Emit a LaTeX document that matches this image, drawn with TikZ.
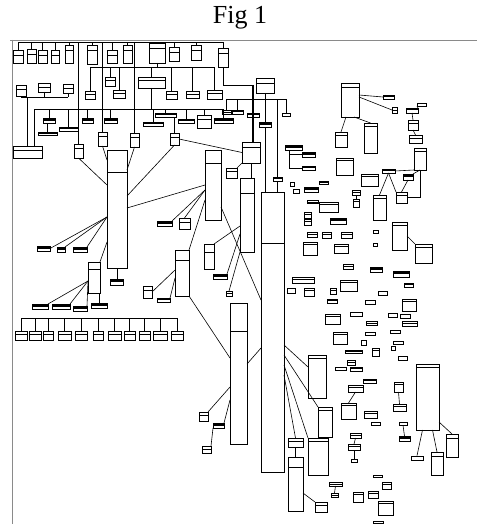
\documentclass[tikz,border=0pt]{standalone}
\usepackage{fontspec}
\setmainfont{Liberation Serif}
\usetikzlibrary{fit}
\definecolor{frame}{HTML}{8A8A8A}
\tikzset{
  hdr/.store in=\hdrdist, hdr=3,
  tbl/.style={draw, line width=0.7pt, inner sep=0pt, outer sep=0pt,
    path picture={\draw[line width=0.9pt] ([yshift=-\hdrdist]path picture bounding box.north west) -- ([yshift=-\hdrdist]path picture bounding box.north east);}},
  bar/.style={draw, line width=0.6pt, inner sep=0pt, outer sep=0pt,
    path picture={\fill (path picture bounding box.north west) rectangle (path picture bounding box.east);}},
  lnk/.style={line width=0.6pt},
  bus/.style={line width=0.8pt},
}

\begin{document}
\begin{tikzpicture}[x=1pt, y=-1pt]
  \useasboundingbox (0,0) rectangle (477,524);
  \node[font=\fontsize{26}{30}\selectfont] (title) at (240,18) {Fig 1};
  \draw[frame, line width=0.8pt] (10,40) -- (477,40);
  \draw[frame, line width=0.8pt] (12,40) -- (12,524);

  % top row on the first bus
  \coordinate (topbus) at (18,42);
  \coordinate (topbusE) at (223,42);
  \draw[bus] (topbus) -- (topbusE);
  \foreach \n/\xa/\ya/\xb/\yb in {1/13/50/23/63, 2/27/49/36/63, 3/38/50/47/63, 4/51/50/59/63,
      5/65/45/73/63, 6/87/45/97/64, 7/107/50/117/63, 8/123/45/132/63, 9/149/43/165/63,
      10/169/47/179/61, 11/191/45/201/60, 12/218/48/228/67} {
    \node[tbl, hdr=5, fit={(\xa,\ya) (\xb,\yb)}] (a\n) {};
    \draw[lnk] (a\n.north) -- (a\n.north |- topbus);
  }
  \node[tbl, hdr=4, fit={(74,144) (83,158)}] (c1) {};
  \node[tbl, hdr=4, fit={(98,132) (107,146)}] (c2) {};
  \node[tbl, hdr=4, fit={(130,133) (139,147)}] (c3) {};
  \foreach \n in {1,2,3}
    \draw[lnk] (c\n.north) -- (c\n.north |- topbus);

  % left group
  \coordinate (lb) at (0,97);
  \node[tbl, hdr=4, fit={(16,85) (26,96)}] (b1) {};
  \node[tbl, hdr=4, fit={(38,83) (50,92)}] (b2) {};
  \node[tbl, hdr=4, fit={(63,84) (73,93)}] (b3) {};
  \draw[bus] (b1.south |- lb) -- (b3.south |- lb);
  \draw[lnk] (b2.south) -- (b2.south |- lb);
  \draw[lnk] (b3.south) -- (b3.south |- lb);
  \node[tbl, hdr=4, fit={(13,146) (42,158)}] (d1) {};
  \draw[lnk] (d1.north) -- (d1.north |- lb);

  % second bus
  \coordinate (mb) at (0,67);
  \foreach \n/\xa/\ya/\xb/\yb in {1/85/91/95/99, 2/105/77/115/86, 3/113/90/125/98, 4/138/77/165/88,
      5/166/91/177/99, 6/186/91/199/98, 7/207/90/222/99}
    \node[tbl, hdr=3, fit={(\xa,\ya) (\xb,\yb)}] (e\n) {};
  \draw[bus] (e1.north |- mb) -- (e7.north |- mb);
  \foreach \n in {1,...,7}
    \draw[lnk] (e\n.north) -- (e\n.north |- mb);
  \draw[lnk] (a9.south) -- (a9.south |- mb);

  % third bus
  \coordinate (fb) at (0,109);
  \foreach \n/\xa/\ya/\xb/\yb in {1/43/118/55/123, 2/82/118/93/123, 3/104/118/117/123, 4/155/113/176/117,
      5/143/122/163/126, 6/178/119/194/123, 8/214/118/233/123, 9/59/127/78/131, 10/38/132/57/135}
    \node[bar, fit={(\xa,\ya) (\xb,\yb)}] (f\n) {};
  \node[tbl, hdr=4, fit={(197,115) (211,128)}] (f7) {};
  \node[tbl, hdr=4, fit={(170,133) (179,145)}] (f11) {};
  \draw[bus] ([xshift=7pt]d1.north |- fb) -- (f8.north |- fb);
  \draw[lnk] ([xshift=7pt]d1.north) -- ([xshift=7pt]d1.north |- fb);
  \foreach \n in {1,2,3,4,5,6,7,8,9}
    \draw[lnk] (f\n.north) -- (f\n.north |- fb);
  \draw[lnk] (f10.north) -- (f10.north |- f1.south);
  \draw[lnk] (f11.north) -- (f11.north |- f4.south);
  \draw[lnk] (e4.south) -- (e4.south |- fb);

  % right bus and junction
  \coordinate (gb) at (0,99);
  \coordinate (jn) at (253,85);
  \foreach \n/\xa/\ya/\xb/\yb in {2/232/110/243/114, 3/247/113/259/117, 4/259/122/271/127,
      5/282/113/290/116, 6/273/177/282/181}
    \node[bar, fit={(\xa,\ya) (\xb,\yb)}] (g\n) {};
  \node[tbl, hdr=2, fit={(222,110) (231,114)}] (g1) {};
  \node[tbl, hdr=5, fit={(256,78) (274,93)}] (h1) {};
  \draw[bus] (g1.north |- gb) -- (g5.north |- gb);
  \foreach \n in {1,2,4,5,6}
    \draw[lnk] (g\n.north) -- (g\n.north |- gb);
  \draw[lnk] (h1.south) -- (h1.south |- gb);
  \draw[lnk] (a12.south) |- (jn);

  % tall tables
  \node[tbl, hdr=22, fit={(107,150) (127,268)}] (t1) {};
  \node[tbl, hdr=13, fit={(205,150) (221,220)}] (t2) {};
  \node[tbl, hdr=15, fit={(240,178) (254,252)}] (t3) {};
  \node[tbl, hdr=51, fit={(261,192) (284,472)}] (t4) {};
  \node[tbl, hdr=5, fit={(242,142) (260,163)}] (t5) {};
  \node[tbl, hdr=28, fit={(230,303) (247,444)}] (t6) {};
  \node[tbl, hdr=10, fit={(288,457) (303,511)}] (t7) {};
  \node[tbl, hdr=3, fit={(288,438) (303,447)}] (t7a) {};
  \node[tbl, hdr=3, fit={(308,438) (328,475)}] (t8) {};
  \node[tbl, hdr=3, fit={(318,407) (332,437)}] (t8b) {};
  \node[tbl, hdr=3, fit={(308,355) (326,398)}] (t9) {};
  \node[tbl, hdr=7, fit={(88,262) (100,293)}] (t10) {};
  \node[tbl, hdr=10, fit={(175,250) (189,296)}] (t11) {};
  \node[tbl, hdr=8, fit={(204,244) (214,269)}] (t12) {};
  \node[tbl, hdr=3, fit={(416,364) (439,430)}] (r1) {};
  \node[tbl, hdr=4, fit={(341,83) (359,117)}] (r2) {};
  \draw[line width=1.5pt] (jn) -- (t5.north -| jn);
  \draw[lnk] (g4.south) -- (g4.south |- t4.north);
  \draw[lnk] (g6.south) -- (g6.south |- t4.north);

  % small tables round the left side
  \foreach \n/\xa/\ya/\xb/\yb in {1/37/246/50/251, 2/57/247/65/252, 3/73/247/87/252}
    \node[bar, fit={(\xa,\ya) (\xb,\yb)}] (k\n) {};
  \foreach \n/\xa/\ya/\xb/\yb in {1/32/304/48/309, 2/52/304/70/309, 3/73/306/87/311, 4/91/303/107/308}
    \node[bar, fit={(\xa,\ya) (\xb,\yb)}] (n\n) {};
  \node[bar, fit={(110,279) (123,285)}] (m1) {};
  \node[bar, fit={(157,221) (172,226)}] (q1) {};
  \node[tbl, hdr=4, fit={(179,218) (190,229)}] (q2) {};
  \node[tbl, hdr=3, fit={(226,168) (237,178)}] (rr) {};
  \node[bar, fit={(213,274) (227,279)}] (u1) {};
  \node[tbl, hdr=2, fit={(226,291) (232,296)}] (u2) {};
  \node[tbl, hdr=4, fit={(143,286) (152,298)}] (v1) {};
  \node[bar, fit={(157,298) (170,302)}] (v2) {};
  \node[tbl, hdr=3, fit={(199,412) (208,421)}] (w1) {};
  \node[bar, fit={(213,423) (224,428)}] (w2) {};
  \node[tbl, hdr=3, fit={(202,446) (211,453)}] (w3) {};
  \node[tbl, hdr=3, fit={(315,502) (327,512)}] (x1) {};

  % bottom row on its own bus
  \coordinate (pb) at (0,318);
  \foreach \n/\xa/\xb in {1/15/27, 2/29/41, 3/43/53, 4/58/71, 5/75/87, 6/93/103, 7/108/121,
      8/124/135, 9/139/150, 10/153/167, 11/171/183} {
    \node[tbl, hdr=3, fit={(\xa,331) (\xb,340)}] (p\n) {};
    \draw[lnk] (p\n.north) -- (p\n.north |- pb);
  }
  \draw[bus] (p1.north |- pb) -- (p11.north |- pb);

  % links of the big tables
  \draw[lnk] (c2.south) -- ([yshift=-10pt]t1.north west);
  \draw[lnk] (c3.south) -- ([yshift=-20pt]t1.north east);
  \draw[lnk] (c1.south) -- ([yshift=-35pt]t1.north west);
  \draw[lnk] (f11.south) -- ([yshift=-46pt]t1.north east);
  \draw[lnk] (f11.east) -- (t5.west);
  \draw[lnk] ([yshift=-35pt]t2.north west) -- ([yshift=-58pt]t1.north east);
  \foreach \k in {k1.east, k2.north east, k3.north east}
    \draw[lnk] ([yshift=-67pt]t1.north west) -- (\k);
  \draw[lnk] ([yshift=-92pt]t1.north west) -- (t10.north east);
  \draw[lnk] (t1.south) -- (t1.south |- m1.north);
  \foreach \k in {n1.north east, n2.north east, n3.north east}
    \draw[lnk] ([yshift=-19pt]t10.north west) -- (\k);
  \draw[lnk] (n4.north) -- (n4.north |- t10.south);
  \draw[lnk] ([yshift=-40pt]t2.north west) -- (q1.north east);
  \draw[lnk] ([yshift=-40pt]t2.north west) -- (q2.north);
  \draw[lnk] ([yshift=-50pt]t2.north west) -- (t11.north east);
  \draw[lnk] ([yshift=-57pt]t2.north east) -- ([yshift=-108pt]t4.north west);
  \draw[lnk] (rr.north east) -- (t5.south west);
  \draw[lnk] (t5.south) -- (t5.south |- t3.north);
  \draw[lnk] (t12.north east) -- ([yshift=-48pt]t3.north west);
  \draw[lnk] (u1.north east) -- ([yshift=-56pt]t3.north west);
  \draw[lnk] (u2.north) -- (t3.south west);
  \draw[lnk] ([yshift=-20pt]t11.north west) -- (v1.east);
  \draw[lnk] ([yshift=-28pt]t11.north west) -- (v2.north east);
  \draw[lnk] (t11.south east) -- ([yshift=-55pt]t6.north west);
  \draw[lnk] ([yshift=-61pt]t6.north east) -- ([yshift=-156pt]t4.north west);
  \draw[lnk] ([yshift=-84pt]t6.north west) -- (w1.north east);
  \draw[lnk] ([yshift=-97pt]t6.north west) -- (w2.north east);
  \draw[lnk] (w2.south west) -- (w3.north east);
  \draw[lnk] ([yshift=-153pt]t4.north east) -- ([yshift=-12pt]t9.north west);
  \draw[lnk] ([yshift=-163pt]t4.north east) -- (t8b.north west);
  \draw[lnk] ([yshift=-173pt]t4.north east) -- (t8.north west);
  \draw[lnk] ([yshift=-183pt]t4.north east) -- (t7a.north);
  \draw[lnk] (t7a.south) -- (t7.north);
  \draw[lnk] ([yshift=-36pt]t7.north east) -- (x1.north west);

  % right side groups
  \foreach \n/\xa/\ya/\xb/\yb in {1/335/132/347/147, 2/364/123/377/153, 4/392/107/397/113,
      7/408/120/418/130, 8/409/135/422/143, 9/414/148/426/170, 12/396/192/407/203,
      13/373/195/386/220, 14/392/222/407/250, 15/415/244/432/263}
    \node[tbl, hdr=3, fit={(\xa,\ya) (\xb,\yb)}] (s\n) {};
  \foreach \n/\xa/\ya/\xb/\yb in {3/383/95/394/99, 5/417/103/426/106, 6/406/108/418/113,
      10/382/169/395/173, 11/403/174/413/180}
    \node[bar, fit={(\xa,\ya) (\xb,\yb)}] (s\n) {};
  \draw[lnk] ([xshift=-4pt]r2.south) -- (s1.north);
  \draw[lnk] ([xshift=4pt]r2.south) -- (s2.north);
  \draw[lnk] ([yshift=-12pt]r2.north east) -- (s3.west);
  \draw[lnk] ([yshift=-14pt]r2.north east) -- (s4.west);
  \draw[lnk] (s5.south west) -- (s6.north east);
  \draw[lnk] (s6.south) -- (s7.north);
  \draw[lnk] (s7.south) -- (s8.north);
  \draw[lnk] (s9.south west) -- (s10.east);
  \draw[lnk] (s9.south) -- (s11.north east);
  \draw[lnk] (s9.south) |- (s12.east);
  \draw[lnk] (s10.south) -- (s13.north);
  \draw[lnk] (s10.south) -- (s12.north west);
  \draw[lnk] (s11.south) -- (s12.north);
  \draw[lnk] (s14.east) -- (s15.north west);

  % loose tables in the middle field
  \node[bar, fit={(285,145) (302,150)}] (ob1) {};
  \node[bar, fit={(302,152) (315,157)}] (ob2) {};
  \node[bar, fit={(302,166) (315,170)}] (ob3) {};
  \draw[lnk] ([xshift=4pt]ob1.south west) |- (ob2.west);
  \draw[lnk] ([xshift=4pt]ob1.south west) |- (ob3.west);
  \foreach \n/\xa/\ya/\xb/\yb in {6/307/200/318/203, 7/319/202/338/212, 8/304/212/311/218,
      9/304/219/311/225, 11/336/158/353/175, 12/361/174/378/186, 13/352/190/360/195,
      14/353/199/359/207, 17/307/232/317/237, 18/322/232/331/238, 19/341/232/352/238,
      22/303/242/317/255, 23/334/244/348/253, 25/343/264/353/269, 28/292/277/314/283,
      29/340/280/357/291, 32/304/288/314/296, 33/330/288/336/294, 37/402/299/416/311,
      38/325/314/340/324, 42/366/321/377/325, 43/402/321/417/326, 46/333/332/347/344,
      51/372/348/379/356, 53/347/360/355/365, 57/348/385/363/392, 58/341/403/356/419,
      59/364/411/377/418, 61/394/382/403/392, 62/393/404/406/411, 65/350/433/361/438,
      66/348/444/360/450, 69/382/482/391/489, 70/329/482/342/486, 71/331/493/338/497,
      72/353/492/363/502, 73/368/491/378/498, 74/378/501/393/515}
    \node[tbl, hdr=2, fit={(\xa,\ya) (\xb,\yb)}] (o\n) {};
  % the smallest ones are only outlines
  \foreach \n/\xa/\ya/\xb/\yb in {2/290/182/294/186, 3/293/189/299/193, 20/373/230/378/233,
      21/373/243/377/246, 31/287/288/295/293, 34/378/291/387/295, 36/365/300/375/304,
      39/350/312/362/316, 40/388/313/397/317, 41/400/314/410/318, 44/365/332/375/335,
      45/390/330/400/333, 47/361/340/366/345, 48/393/341/403/344, 49/391/346/395/350,
      52/398/356/407/360, 54/335/367/346/370, 60/371/422/380/425, 63/399/422/407/425,
      67/351/459/357/462, 68/373/475/382/477, 75/373/521/383/523}
    \node[draw, line width=0.7pt, inner sep=0pt, fit={(\xa,\ya) (\xb,\yb)}] (o\n) {};
  \foreach \n/\xa/\ya/\xb/\yb in {4/304/187/318/192, 5/319/181/328/184, 10/330/218/346/224,
      26/370/267/382/272, 27/393/271/409/277, 30/404/283/413/287, 35/327/299/337/303,
      50/345/350/362/353, 55/350/367/362/371, 56/363/379/376/383, 64/399/436/410/441}
    \node[bar, fit={(\xa,\ya) (\xb,\yb)}] (o\n) {};
  \draw[lnk] (o13.south) -- (o14.north);
  \draw[lnk] (o57.south) -- (o58.north);
  \draw[lnk] (o61.south) -- (o62.north);
  \draw[lnk] (o63.south) -- (o64.north);
  \draw[lnk] (o65.south) -- (o66.north);
  \draw[lnk] (o66.south) -- (o67.north);
  \draw[lnk] (o70.south) -- (o71.north);

  % lower right table
  \node[tbl, hdr=4, fit={(446,434) (458,457)}] (r1b) {};
  \node[tbl, hdr=4, fit={(431,452) (443,475)}] (r1c) {};
  \node[draw, line width=0.7pt, inner sep=0pt, fit={(411,456) (423,460)}] (r1d) {};
  \draw[lnk] ([xshift=-5pt]r1.south) -- (r1d.north);
  \draw[lnk] ([xshift=5pt]r1.south) -- (r1c.north);
  \draw[lnk] ([yshift=-58pt]r1.north east) -- (r1b.north);
\end{tikzpicture}
\end{document}
